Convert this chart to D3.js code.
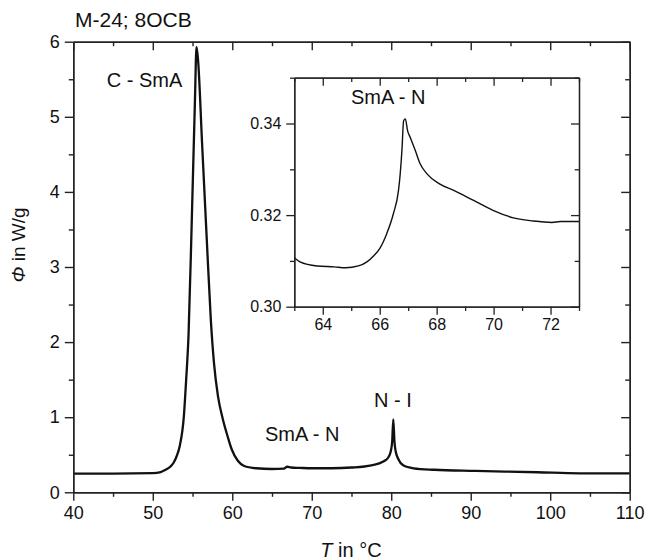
<!DOCTYPE html>
<html>
<head>
<meta charset="utf-8">
<script src="https://cdn.jsdelivr.net/npm/d3@7"></script>
<style>
    body { margin: 0; background: #fff; }
    svg { font-family: "Liberation Sans", Arial, sans-serif; }
    .axis path, .axis line { stroke: #222; }
    .axis text { fill: #111; }
</style>
</head>
<body>
<svg id="chart" width="648" height="560"></svg>
<script>
// DSC trace, main plot
const mainT = [40, 45, 50, 51, 51.6, 52.2, 52.6, 53.0, 53.4, 53.9, 54.2, 54.5, 54.9, 55.3, 55.5, 55.7,
    56.2, 56.8, 57.3, 57.7, 58.2, 58.8, 59.4, 59.9, 60.7, 61.5, 63, 65, 66.5, 66.9, 67.4, 68.5, 70, 72.5,
    75, 77.5, 79, 79.6, 79.95, 80.12, 80.26, 80.4, 80.55, 80.9, 81.5, 82.8, 85.4, 90.6, 98.4, 103.7, 110];
const mainPhi = [0.25, 0.25, 0.255, 0.27, 0.30, 0.34, 0.39, 0.48, 0.62, 1.0, 1.5, 2.1, 3.6, 5.2, 5.93, 5.75,
    4.65, 3.35, 2.3, 1.72, 1.28, 0.98, 0.75, 0.58, 0.42, 0.35, 0.32, 0.31, 0.315, 0.34, 0.33, 0.325, 0.32, 0.32,
    0.33, 0.36, 0.41, 0.46, 0.55, 0.68, 0.97, 0.68, 0.55, 0.44, 0.36, 0.32, 0.30, 0.285, 0.267, 0.253, 0.252];

// zoom on the SmA - N transition
const insetT = [63.0, 63.2, 63.8, 64.4, 64.8, 65.25, 65.55, 65.8, 66.0, 66.25, 66.48, 66.66, 66.72, 66.78,
    66.84, 66.9, 66.98, 67.07, 67.25, 67.42, 67.66, 68.1, 68.6, 69.3, 70.0, 70.7, 71.4, 72.05, 72.35, 73.0];
const insetPhi = [0.3107, 0.3098, 0.3089, 0.3087, 0.3085, 0.3089, 0.3098, 0.3112, 0.3127, 0.3160, 0.3203,
    0.3254, 0.3290, 0.3341, 0.3406, 0.3410, 0.3384, 0.3370, 0.3341, 0.3312, 0.3290, 0.3268, 0.3254, 0.3232,
    0.3210, 0.3194, 0.3187, 0.3184, 0.3186, 0.3186];

const mainXTicks = [40, 50, 60, 70, 80, 90, 100, 110];
const mainXMinor = [45, 55, 65, 75, 85, 95, 105];
const mainYTicks = [0, 1, 2, 3, 4, 5, 6];
const mainYMinor = [0.5, 1.5, 2.5, 3.5, 4.5, 5.5];
const insetXTicks = [64, 66, 68, 70, 72];
const insetXMinor = [63, 65, 67, 69, 71, 73];
const insetYTicks = [0.30, 0.32, 0.34];
const insetYMinor = [0.31, 0.33, 0.35];

const annotations = [
    { text: 'C - SmA', T: 48.96, phi: 5.4 },
    { text: 'SmA - N', T: 68.8, phi: 0.68 },
    { text: 'N - I', T: 80.2, phi: 1.14 }
];

const svg = d3.select('#chart');

function drawFrame(g, x, y, opt) {
    const w = x.range()[1] - x.range()[0];
    const h = y.range()[0] - y.range()[1];
    const major = opt.major, minor = opt.minor;

    // bottom + left: ticks out, top + right: ticks in
    g.append('g').attr('class', 'axis').attr('transform', `translate(0,${h})`)
        .call(d3.axisBottom(x).tickValues(opt.xTicks).tickSize(major).tickSizeOuter(0).tickPadding(opt.padX).tickFormat(opt.xFmt));
    g.append('g').attr('class', 'axis').attr('transform', `translate(0,${h})`)
        .call(d3.axisBottom(x).tickValues(opt.xMinor).tickSize(minor).tickSizeOuter(0).tickFormat(''));
    g.append('g').attr('class', 'axis')
        .call(d3.axisLeft(y).tickValues(opt.yTicks).tickSize(major).tickSizeOuter(0).tickPadding(opt.padY).tickFormat(opt.yFmt));
    g.append('g').attr('class', 'axis')
        .call(d3.axisLeft(y).tickValues(opt.yMinor).tickSize(minor).tickSizeOuter(0).tickFormat(''));
    g.append('g').attr('class', 'axis')
        .call(d3.axisTop(x).tickValues(opt.xTicks).tickSize(-major).tickSizeOuter(0).tickFormat(''));
    g.append('g').attr('class', 'axis')
        .call(d3.axisTop(x).tickValues(opt.xMinor).tickSize(-minor).tickSizeOuter(0).tickFormat(''));
    g.append('g').attr('class', 'axis').attr('transform', `translate(${w},0)`)
        .call(d3.axisRight(y).tickValues(opt.yTicks).tickSize(-major).tickSizeOuter(0).tickFormat(''));
    g.append('g').attr('class', 'axis').attr('transform', `translate(${w},0)`)
        .call(d3.axisRight(y).tickValues(opt.yMinor).tickSize(-minor).tickSizeOuter(0).tickFormat(''));

    g.selectAll('.axis path').attr('stroke-width', opt.sw);
    g.selectAll('.axis line').attr('stroke-width', opt.sw);
    g.selectAll('.axis text').style('font-size', opt.fontSize + 'px');
}

// main plot
const main = { left: 73.3, top: 41.7, width: 556.4, height: 450.6 };
const x = d3.scaleLinear().domain([40, 110]).range([0, main.width]);
const y = d3.scaleLinear().domain([0, 6]).range([main.height, 0]);
const gMain = svg.append('g').attr('transform', `translate(${main.left},${main.top})`);

const mainData = mainT.map((t, i) => ({ t, v: mainPhi[i] }));
gMain.append('path')
    .datum(mainData)
    .attr('fill', 'none')
    .attr('stroke', '#111')
    .attr('stroke-width', 2.3)
    .attr('stroke-linejoin', 'round')
    .attr('d', d3.line().x(d => x(d.t)).y(d => y(d.v)).curve(d3.curveMonotoneX));

drawFrame(gMain, x, y, {
    xTicks: mainXTicks, xMinor: mainXMinor, yTicks: mainYTicks, yMinor: mainYMinor,
    major: 8.5, minor: 4.5, padX: 5, padY: 5, sw: 1.4, fontSize: 18,
    xFmt: d3.format('d'), yFmt: d3.format('d')
});

annotations.forEach(a => {
    gMain.append('text')
        .attr('x', x(a.T))
        .attr('y', y(a.phi))
        .attr('text-anchor', 'middle')
        .style('font-size', '20px')
        .attr('fill', '#111')
        .text(a.text);
});

// inset
const ins = { left: 294.3, top: 77.7, width: 284.7, height: 229 };
const xi = d3.scaleLinear().domain([63, 73]).range([0, ins.width]);
const yi = d3.scaleLinear().domain([0.30, 0.35]).range([ins.height, 0]);
const gIns = svg.append('g').attr('transform', `translate(${ins.left},${ins.top})`);

gIns.append('rect').attr('width', ins.width).attr('height', ins.height).attr('fill', '#fff');

const insetData = insetT.map((t, i) => ({ t, v: insetPhi[i] }));
gIns.append('path')
    .datum(insetData)
    .attr('fill', 'none')
    .attr('stroke', '#111')
    .attr('stroke-width', 1.4)
    .attr('d', d3.line().x(d => xi(d.t)).y(d => yi(d.v)).curve(d3.curveMonotoneX));

drawFrame(gIns, xi, yi, {
    xTicks: insetXTicks, xMinor: insetXMinor, yTicks: insetYTicks, yMinor: insetYMinor,
    major: 8, minor: 4.3, padX: 4, padY: 5, sw: 1.3, fontSize: 16,
    xFmt: d3.format('d'), yFmt: d3.format('.2f')
});

gIns.append('text')
    .attr('x', xi(66.3))
    .attr('y', yi(0.3442))
    .attr('text-anchor', 'middle')
    .style('font-size', '20px')
    .attr('fill', '#111')
    .text('SmA - N');

// titles
svg.append('text')
    .attr('x', 75)
    .attr('y', 27)
    .style('font-size', '21px')
    .attr('fill', '#111')
    .text('M-24; 8OCB');

const xLabel = svg.append('text')
    .attr('x', 351)
    .attr('y', 557)
    .attr('text-anchor', 'middle')
    .style('font-size', '20px')
    .attr('fill', '#111');
xLabel.append('tspan').style('font-style', 'italic').text('T');
xLabel.append('tspan').text(' in °C');

const yLabel = svg.append('text')
    .attr('transform', 'translate(25,245) rotate(-90)')
    .attr('text-anchor', 'middle')
    .style('font-size', '19px')
    .attr('fill', '#111');
yLabel.append('tspan').style('font-style', 'italic').text('Φ');
yLabel.append('tspan').text(' in W/g');
</script>
</body>
</html>
